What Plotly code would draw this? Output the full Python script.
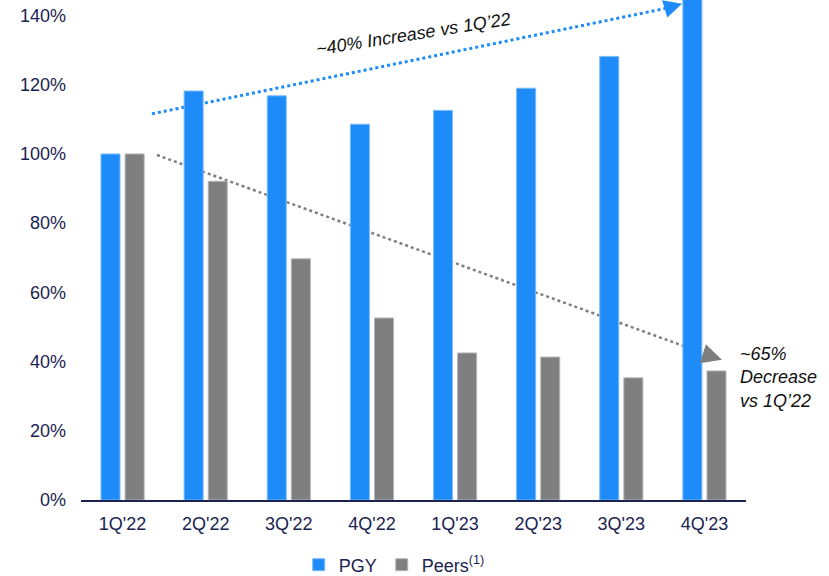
import plotly.graph_objects as go

quarters = ["1Q'22", "2Q'22", "3Q'22", "4Q'22", "1Q'23", "2Q'23", "3Q'23", "4Q'23"]
pgy = [100, 118.2, 116.8, 108.6, 112.6, 119.0, 128.2, 148]
peers = [100, 92.1, 69.7, 52.6, 42.5, 41.3, 35.3, 37.3]
tick_vals = [0, 20, 40, 60, 80, 100, 120, 140]
tick_text = ["0%", "20%", "40%", "60%", "80%", "100%", "120%", "140%"]

BLUE = "#1e8cf8"
GRAY = "#7f7f7f"
NAVY = "#1b2350"
FONT = "Liberation Sans, Arial, sans-serif"

fig = go.Figure()
fig.add_trace(go.Bar(x=quarters, y=pgy, name="PGY", marker_color=BLUE,
                     marker_line=dict(color="#7dbbfb", width=1)))
fig.add_trace(go.Bar(x=quarters, y=peers, name="Peers<sup>(1)</sup>", marker_color=GRAY,
                     marker_line=dict(color="#b5b5b5", width=1)))

# trend arrows (category index coordinates), drawn behind the bars
fig.add_shape(type="line", xref="x", yref="y", x0=0.354, y0=111.6, x1=6.56, y1=142.2,
              layer="below", line=dict(color=BLUE, width=3, dash="dot"))
fig.add_annotation(x=6.73, y=143.4, ax=6.56, ay=142.2, xref="x", yref="y", axref="x", ayref="y",
                   showarrow=True, arrowhead=2, arrowsize=1.2, arrowwidth=3, arrowcolor=BLUE, text="")
fig.add_shape(type="line", xref="x", yref="y", x0=0.414, y0=99.7, x1=6.98, y1=42.5,
              layer="below", line=dict(color=GRAY, width=2.5, dash="dot"))
fig.add_annotation(x=7.21, y=40.5, ax=7.03, ay=41.9, xref="x", yref="y", axref="x", ayref="y",
                   showarrow=True, arrowhead=2, arrowsize=1.6, arrowwidth=2.5, arrowcolor=GRAY, text="")

fig.add_annotation(x=3.5, y=134.7, xref="x", yref="y", text="<i>~40% Increase vs 1Q’22</i>",
                   showarrow=False, textangle=-9, font=dict(family=FONT, size=18, color="#111111"))
fig.add_annotation(x=7.40, y=35.5, xref="x", yref="y", xanchor="left", yanchor="middle", align="left",
                   text="<i>~65%<br>Decrease<br>vs 1Q’22</i>", showarrow=False,
                   font=dict(family=FONT, size=18, color="#111111"))

fig.update_layout(
    width=829, height=576,
    margin=dict(l=81, r=83, t=0, b=76, autoexpand=False),
    plot_bgcolor="white", paper_bgcolor="white",
    barmode="group", bargap=0.42, bargroupgap=0.21,
    font=dict(family=FONT, size=18, color=NAVY),
    showlegend=True,
    legend=dict(orientation="h", x=0.471, xanchor="center", y=-0.13, yanchor="middle",
                font=dict(size=18, color=NAVY), itemwidth=30, traceorder="normal"),
    xaxis=dict(showgrid=False, showline=True, linecolor=NAVY, linewidth=2,
               ticks="", ticklabelstandoff=6, tickfont=dict(size=18, color=NAVY), range=[-0.5, 7.5]),
    yaxis=dict(range=[0, 144.5], showgrid=False, zeroline=False, showline=False,
               tickvals=tick_vals, ticktext=tick_text, ticks="", ticklabelstandoff=14,
               tickfont=dict(size=18, color=NAVY)),
)
fig.update_annotations(clicktoshow=False)

fig.write_html("out.html")
